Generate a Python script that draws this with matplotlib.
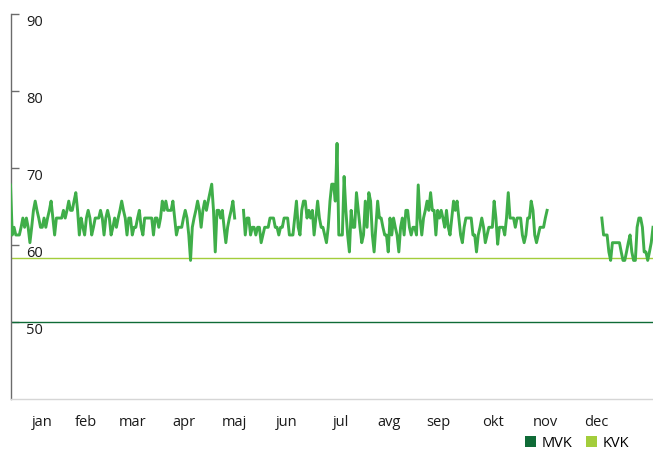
import numpy as np
import matplotlib
matplotlib.use("Agg")
import matplotlib.pyplot as plt
from matplotlib.patches import Patch

plt.rcParams['font.family'] = ['Open Sans', 'DejaVu Sans']

# Month labels along the x axis and value ticks on the y axis
months = ["jan", "feb", "mar", "apr", "maj", "jun",
          "jul", "avg", "sep", "okt", "nov", "dec"]
y_ticks = [50, 60, 70, 80, 90]

# Reference limits
mvk_level = 50.0
kvk_level = 58.3

# Daily readings (gaps are days without measurements)
values_jan_may = [
    67.8, 61.3, 62.3, 61.3, 61.3, 61.3, 62.3, 63.5, 62.3, 63.5,
    62.3, 60.3, 62.3, 64.5, 65.7, 64.5, 63.5, 62.3, 62.3, 63.5,
    62.3, 63.5, 64.5, 65.7, 63.5, 61.3, 63.5, 63.5, 63.5, 63.5,
    64.5, 63.5, 64.5, 65.7, 64.5, 64.5, 65.7, 66.8, 64.5, 61.3,
    63.5, 62.3, 61.3, 63.5, 64.5, 63.5, 61.3, 62.3, 63.5, 63.5,
    63.5, 64.5, 63.5, 61.3, 63.5, 64.5, 63.5, 61.3, 62.3, 63.5,
    62.3, 63.5, 64.5, 65.7, 64.5, 63.5, 61.3, 63.5, 63.5, 61.3,
    62.3, 62.3, 63.5, 64.5, 62.3, 61.3, 63.5, 63.5, 63.5, 63.5,
    63.5, 61.3, 63.5, 63.5, 62.3, 63.5, 65.7, 64.5, 65.7, 64.5,
    64.5, 64.5, 65.7, 63.5, 61.3, 62.3, 62.3, 62.3, 63.5, 64.5,
    63.5, 61.3, 58.0, 62.3, 63.5, 64.5, 65.7, 64.5, 62.3, 64.5,
    65.7, 64.5, 65.7, 66.8, 67.9, 64.5, 59.1, 64.5, 64.5, 63.5,
    64.5, 62.3, 60.3, 62.3, 63.5, 64.5, 65.7, 63.5,
]
missing_may = 4

values_may_nov = [
    64.5, 61.3, 63.5, 63.5, 61.3, 62.3, 62.3, 61.3, 62.3, 62.3,
    60.3, 61.3, 62.3, 62.3, 62.3, 63.5, 63.5, 63.5, 62.3, 62.3,
    61.3, 62.3, 62.3, 63.5, 63.5, 63.5, 61.3, 61.3, 61.3, 63.5,
    65.7, 62.3, 61.3, 64.5, 65.7, 65.7, 63.5, 64.5, 63.5, 64.5,
    61.3, 63.5, 65.7, 63.5, 62.3, 62.3, 61.3, 60.3, 62.3, 65.7,
    67.9, 67.9, 65.7, 73.2, 61.3, 61.3, 61.3, 68.9, 64.5, 61.3,
    59.1, 64.5, 62.3, 62.3, 66.8, 64.5, 62.3, 60.3, 61.3, 65.7,
    62.3, 66.8, 65.7, 61.3, 59.1, 62.3, 65.7, 63.5, 63.5, 62.3,
    61.3, 61.3, 59.1, 63.5, 61.3, 63.5, 62.3, 61.3, 59.1, 62.3,
    63.5, 61.3, 64.5, 64.5, 62.3, 61.3, 62.3, 62.3, 61.3, 67.8,
    63.5, 61.3, 63.5, 64.5, 65.7, 64.5, 66.8, 64.5, 64.5, 61.3,
    64.5, 63.5, 64.5, 63.5, 62.3, 64.5, 62.3, 61.3, 63.5, 65.7,
    64.5, 65.7, 63.5, 61.3, 60.3, 62.3, 63.5, 63.5, 63.5, 63.5,
    61.3, 61.3, 59.1, 61.3, 62.3, 63.5, 62.3, 60.3, 61.3, 62.3,
    62.3, 62.3, 65.7, 63.5, 60.1, 62.3, 62.3, 62.3, 61.3, 63.5,
    66.8, 63.5, 63.5, 63.5, 62.3, 63.5, 63.5, 63.5, 61.3, 60.3,
    61.3, 63.5, 63.5, 65.7, 64.5, 61.3, 60.3, 61.3, 62.3, 62.3,
    62.3, 63.5, 64.5,
]
missing_nov = 30

values_dec = [
    63.5, 61.3, 61.3, 61.3, 59.1, 58.0, 60.3, 60.3, 60.3, 60.3,
    60.3, 59.1, 58.0, 58.0, 59.1, 60.3, 61.3, 59.1, 58.0, 58.0,
    62.3, 63.5, 63.5, 62.3, 59.1, 59.1, 58.0, 59.1, 60.3, 62.3,
]

series = np.concatenate([
    values_jan_may, np.full(missing_may, np.nan),
    values_may_nov, np.full(missing_nov, np.nan),
    values_dec,
])
days = np.arange(series.size)

fig = plt.figure(figsize=(6.53, 4.52), dpi=100)
ax_left_px, ax_width_px = 10.5, 642.5
ax = fig.add_axes([ax_left_px / 653, 52 / 452, ax_width_px / 653, 385 / 452])
ax.set_xlim(0, days[-1])
ax.set_ylim(40, 90)

ax.axhline(mvk_level, color="#0f6b37", lw=1.0, zorder=2)
ax.axhline(kvk_level, color="#a3cd3b", lw=1.0, zorder=2)
ax.plot(days, series, color="#3fae49", lw=2.1, zorder=3,
        solid_joinstyle="round")

for side in ("top", "right"):
    ax.spines[side].set_visible(False)
ax.spines["left"].set_color("#6b6b6b")
ax.spines["left"].set_linewidth(1.0)
ax.spines["bottom"].set_color("#d6d6d6")
ax.spines["bottom"].set_linewidth(1.0)

ax.set_yticks(y_ticks)
ax.tick_params(axis="y", direction="in", length=6, width=1.0,
               color="#6b6b6b", labelleft=False)
for v in y_ticks:
    ax.annotate(str(v), xy=(0, v), xycoords=("axes fraction", "data"),
                xytext=(11.5, -5.2), textcoords="offset points",
                ha="left", va="center", fontsize=10.5, color="#1a1a1a")

# Month label placement (figure pixels from the left edge)
label_px = [42, 86, 133, 184, 234, 287, 341, 389, 438, 493, 545, 596]
span = days[-1]
ax.set_xticks([(p - ax_left_px) / ax_width_px * span for p in label_px])
ax.set_xticklabels(months, fontsize=10.5, color="#1a1a1a")
ax.tick_params(axis="x", length=0, pad=11)

handles = [Patch(facecolor="#0f6b37", edgecolor="none"),
           Patch(facecolor="#a3cd3b", edgecolor="none")]
fig.legend(handles, ["MVK", "KVK"], loc="center left",
           bbox_to_anchor=(525 / 653, 8 / 452), ncol=2, frameon=False,
           fontsize=10.5, handlelength=0.75, handleheight=0.75,
           handletextpad=0.4, columnspacing=0.9, borderpad=0,
           borderaxespad=0)

fig.savefig("out.png", dpi=100)
